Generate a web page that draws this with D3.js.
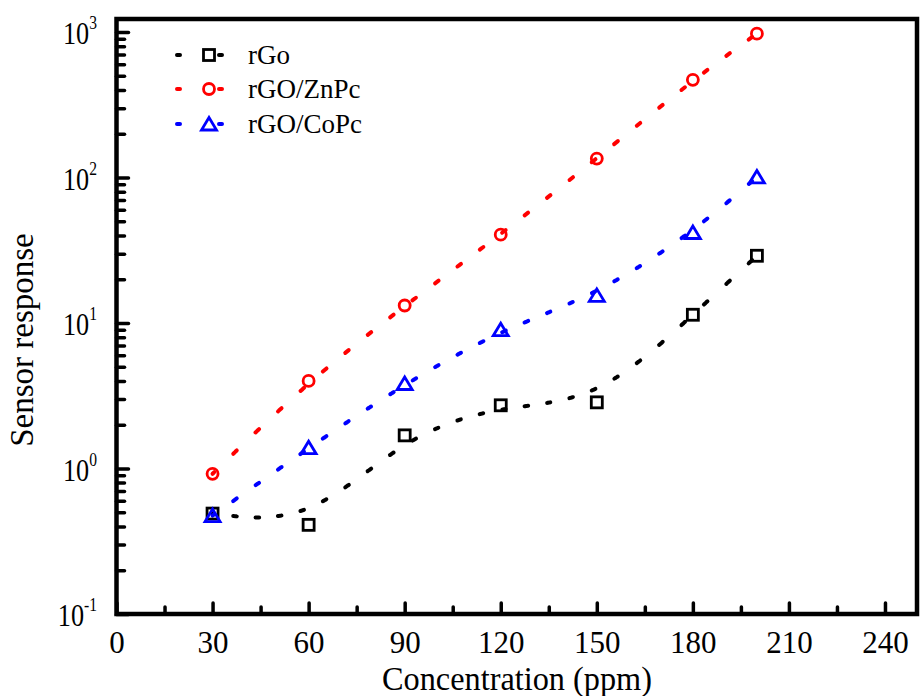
<!DOCTYPE html>
<html>
<head>
<meta charset="utf-8">
<script src="https://cdn.jsdelivr.net/npm/d3@7"></script>
<style>
  body { margin: 0; background: #fff; }
  text { font-family: "Liberation Serif", "Times New Roman", serif; fill: #000; }
</style>
</head>
<body>
<div id="chart"></div>
<script>
const width = 921;
const height = 696;

// data
const concentration = [30, 60, 90, 120, 150, 180, 200];
const rGo   = [0.49, 0.41, 1.69, 2.72, 2.85, 11.4, 29];
const rGoZn = [0.92, 4.0, 13.2, 40.5, 135, 470, 975];
const rGoCo = [0.475, 1.39, 3.84, 9.0, 15.5, 41.9, 101];

const seriesNames  = ["rGo", "rGO/ZnPc", "rGO/CoPc"];
const seriesColors = ["#000000", "#ff0000", "#0000ff"];
const seriesShapes = ["square", "circle", "triangle"];

const xMajor = [0, 30, 60, 90, 120, 150, 180, 210, 240];
const xMinor = [15, 45, 75, 105, 135, 165, 195, 225];
const yMajor = [0.1, 1, 10, 100, 1000];

const fitStep = 7;  // ppm between the dots of the fit curves

const x = d3.scaleLinear().domain([0, 250]).range([116.5, 917]);
const y = d3.scaleLog().domain([0.1, 1230]).range([614, 19]);

const svg = d3.select("#chart").append("svg")
  .attr("width", width)
  .attr("height", height);

// minor y ticks 2..9 in each decade
const yMinor = [];
yMajor.forEach(d => {
  for (let k = 2; k <= 9; k++) {
    const v = d * k;
    if (v < y.domain()[1]) yMinor.push(v);
  }
});

// ticks pointing inward
function styleTicks(g) {
  g.select(".domain").remove();
  g.selectAll(".tick line").attr("stroke", "#000").attr("stroke-width", 3.5).attr("stroke-linecap", "round");
}

svg.append("g").attr("transform", `translate(${x.range()[0]},0)`)
  .call(d3.axisRight(y).tickValues(yMinor).tickSize(8).tickFormat(""))
  .call(styleTicks);
svg.append("g").attr("transform", `translate(${x.range()[0]},0)`)
  .call(d3.axisRight(y).tickValues(yMajor).tickSize(12).tickFormat(""))
  .call(styleTicks);

svg.append("g").attr("transform", `translate(0,${y.range()[0]})`)
  .call(d3.axisTop(x).tickValues(xMinor).tickSize(7).tickFormat(""))
  .call(styleTicks);
svg.append("g").attr("transform", `translate(0,${y.range()[0]})`)
  .call(d3.axisTop(x).tickValues(xMajor).tickSize(11).tickFormat(""))
  .call(styleTicks);

// x tick labels
const xLabels = svg.append("g").attr("transform", `translate(0,${y.range()[0]})`)
  .call(d3.axisBottom(x).tickValues(xMajor).tickSize(0).tickPadding(17).tickFormat(d3.format("d")));
xLabels.select(".domain").remove();
xLabels.attr("font-family", null);
xLabels.selectAll("text")
  .style("font-family", "'Liberation Serif', 'Times New Roman', serif")
  .attr("font-size", 31)
  .attr("fill", "#000");

// y tick labels with superscripts
yMajor.forEach(v => {
  const t = svg.append("text")
    .attr("transform", `translate(97,${y(v) + 12}) scale(0.82,1)`)
    .attr("text-anchor", "end")
    .attr("font-size", 32);
  t.append("tspan").text("10");
  t.append("tspan").attr("font-size", 19).attr("dy", -15).text(Math.round(Math.log10(v)));
});

// frame
svg.append("rect")
  .attr("x", x.range()[0]).attr("y", y.range()[1])
  .attr("width", x.range()[1] - x.range()[0])
  .attr("height", y.range()[0] - y.range()[1])
  .attr("fill", "none")
  .attr("stroke", "#000")
  .attr("stroke-width", 4.5);

// axis titles
svg.append("text")
  .attr("transform", "translate(517,690) scale(0.95,1)")
  .attr("text-anchor", "middle")
  .attr("font-size", 34)
  .text("Concentration (ppm)");

svg.append("text")
  .attr("transform", "translate(33,340) rotate(-90)")
  .attr("text-anchor", "middle")
  .attr("font-size", 33)
  .text("Sensor response");

// marker drawing
function marker(g, shape, color, cx, cy) {
  if (shape === "square") {
    g.append("rect").attr("x", cx - 5.5).attr("y", cy - 5.5).attr("width", 11).attr("height", 11)
      .attr("fill", "none").attr("stroke", color).attr("stroke-width", 2.8);
  } else if (shape === "circle") {
    g.append("circle").attr("cx", cx).attr("cy", cy).attr("r", 5.5)
      .attr("fill", "none").attr("stroke", color).attr("stroke-width", 2.8);
  } else {
    g.append("path")
      .attr("d", `M${cx - 7.5},${cy + 6}L${cx + 7.5},${cy + 6}L${cx},${cy - 6.5}Z`)
      .attr("fill", "none").attr("stroke", color).attr("stroke-width", 2.8)
      .attr("stroke-linejoin", "miter");
  }
}

// fitted curve drawn as short dashes spaced evenly in x
function drawFit(g, xs, ys, color) {
  const pts = xs.map((d, i) => [x(d), y(ys[i])]);
  const tmp = g.append("path")
    .attr("d", d3.line().curve(d3.curveBasis)(pts))
    .attr("fill", "none").attr("stroke", "none");
  const node = tmp.node();
  const L = node.getTotalLength();
  const samples = d3.range(0, L, 0.4).map(l => node.getPointAtLength(l));
  tmp.remove();
  d3.range(xs[0], xs[xs.length - 1] + 0.01, fitStep).forEach(c => {
    const cx = x(c);
    const seg = samples.filter(p => Math.abs(p.x - cx) <= 1.9);
    if (seg.length > 1) {
      g.append("path")
        .attr("d", d3.line()(seg.map(p => [p.x, p.y])))
        .attr("fill", "none")
        .attr("stroke", color)
        .attr("stroke-width", 4)
        .attr("stroke-linecap", "round");
    }
  });
}

const allSeries = [rGo, rGoZn, rGoCo];
const plot = svg.append("g");

allSeries.forEach((vals, i) => {
  drawFit(plot, concentration, vals, seriesColors[i]);
});
allSeries.forEach((vals, i) => {
  vals.forEach((v, j) => marker(plot, seriesShapes[i], seriesColors[i], x(concentration[j]), y(v)));
});

// legend
const legendRows = [55, 89, 124];
seriesNames.forEach((name, i) => {
  const ly = legendRows[i];
  svg.append("line")
    .attr("x1", 177).attr("x2", 224).attr("y1", ly).attr("y2", ly)
    .attr("stroke", seriesColors[i])
    .attr("stroke-width", 4)
    .attr("stroke-dasharray", "3,39")
    .attr("stroke-linecap", "round");
  marker(svg, seriesShapes[i], seriesColors[i], 209, ly);
  svg.append("text")
    .attr("x", 248).attr("y", ly + 9)
    .attr("font-size", 27)
    .text(name);
});
</script>
</body>
</html>
